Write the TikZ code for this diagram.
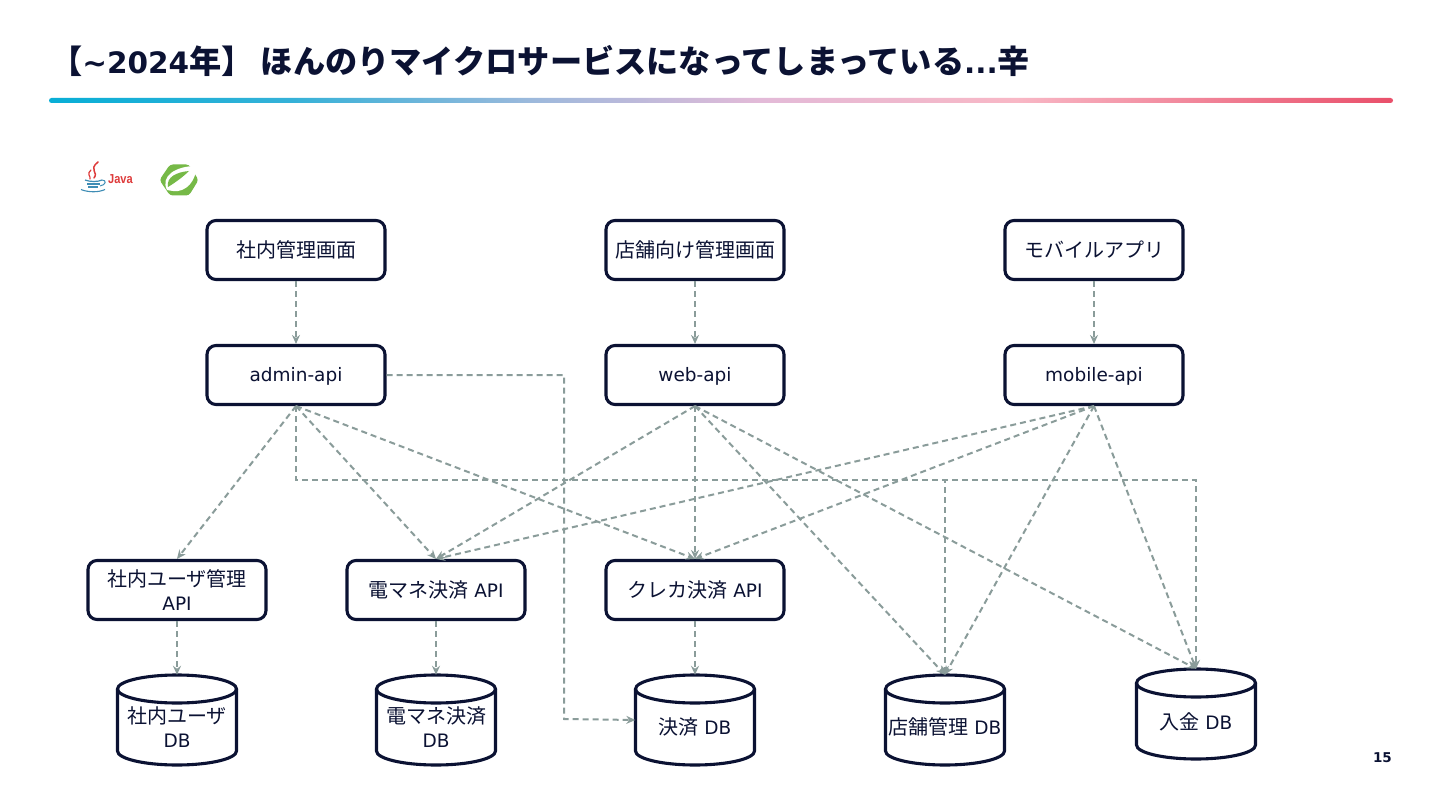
\documentclass[tikz,border=0pt]{standalone}
\usepackage{fontspec}
\setmainfont{DejaVu Sans}
\newfontfamily\jp{Noto Sans CJK JP}
\newfontfamily\jl{Liberation Sans}
\usetikzlibrary{arrows.meta,calc}
\definecolor{ink}{HTML}{0B1233}
\definecolor{conn}{HTML}{8A9C9A}
\definecolor{barA}{HTML}{08AED6}
\definecolor{barB}{HTML}{9DB9DC}
\definecolor{barC}{HTML}{E3BAD8}
\definecolor{barD}{HTML}{F8B7C5}
\definecolor{barE}{HTML}{E94F6A}
\definecolor{javared}{HTML}{DE3B3B}
\definecolor{javablue}{HTML}{3F8DB5}
\definecolor{springgreen}{HTML}{76B947}
\pgfdeclarehorizontalshading{titlebar}{100bp}{
 color(0bp)=(barA); color(25bp)=(barA); color(34bp)=(barA!70!barB); color(43bp)=(barB); color(51.5bp)=(barC); color(61bp)=(barD); color(75bp)=(barE); color(100bp)=(barE)}
\newcommand{\J}[1]{{\fontsize{20}{24}\selectfont\jp #1}}
\newcommand{\JT}[1]{{\fontsize{32.2}{38}\selectfont\jp #1}}
\newcommand{\Lat}[1]{\raisebox{-6.5pt}[0pt][0pt]{#1}}
\tikzset{
 x=1pt,y=-1pt,
 box/.style={draw=ink,line width=3.1pt,rounded corners=9pt,fill=white,minimum width=178pt,minimum height=59pt,inner sep=0pt,align=center,text=ink,font=\fontsize{18.5}{24}\selectfont},
 dbtext/.style={inner sep=0pt,align=center,text=ink,font=\fontsize{18.5}{24}\selectfont},
 dbframe/.style={inner sep=0pt,minimum width=119pt,minimum height=90pt},
 dbline/.style={draw=ink,line width=3.1pt,fill=white},
 flow/.style={draw=conn,line width=2pt,dash pattern=on 6pt off 4pt,-{Stealth[length=9pt,width=8pt,inset=3pt]}},
}
% name, cx, top, text
\newcommand{\dbcyl}[5][52]{
 \draw[dbline] (#3-59.5,#4+14) -- (#3-59.5,#4+76) arc[start angle=180,end angle=360,x radius=59.5,y radius=-14] -- (#3+59.5,#4+14);
 \draw[dbline] (#3,#4+14) ellipse[x radius=59.5,y radius=14];
 \node[dbframe] (#2) at (#3,#4+45) {};
 \node[dbtext] (#2text) at (#3,#4+#1) {#5};
}
\begin{document}
\begin{tikzpicture}
\useasboundingbox (0,0) rectangle (1440,810);
\fill[white] (0,0) rectangle (1440,810);

\node[anchor=west,inner sep=0pt,text=ink,font=\fontsize{29.5}{36}\selectfont\bfseries] (title) at (50,61) {\JT{【}\textasciitilde 2024\JT{年】 ほんのりマイクロサービスになってしまっている}...\JT{辛}};
\shade[shading=titlebar,rounded corners=2.5pt] (49,98) rectangle (1393,103);
\node[anchor=east,inner sep=0pt,text=ink,font=\fontsize{13.5}{15}\selectfont\bfseries] (page) at (1392,758) {15};

% Java logo
\draw[javared,line width=1.5pt,line cap=round] (98,162) .. controls (88,170) and (99,172) .. (94,178);
\draw[javared,line width=1.2pt,line cap=round] (91,170) .. controls (86,174) and (91,176) .. (90,179);
\draw[javablue,line width=1.2pt] (85,180) .. controls (90,182) and (98,182) .. (102,180);
\draw[javablue,line width=1.2pt] (87,184) -- (100,184);
\draw[javablue,line width=1.2pt] (88,187) -- (98,187);
\draw[javablue,line width=1pt] (102,180) .. controls (107,180) and (106,185) .. (100,186);
\draw[javablue,line width=1.1pt] (81,189.5) .. controls (88,192.5) and (99,192.5) .. (105,189.5);
\node[anchor=west,inner sep=0pt,text=javared,font=\fontsize{13}{15}\jl\bfseries\selectfont,xscale=.85] (java) at (108,179) {Java};

% Spring logo
\fill[springgreen,rounded corners=3pt] (170,164.5) -- (189,164.5) -- (198.5,180) -- (189,195.5) -- (170,195.5) -- (159.5,180) -- cycle;
\fill[white] (167,190) .. controls (160,176) and (176,166) .. (196,166) .. controls (197,180) and (186,193) .. (173,191) .. controls (171,191) and (168,190) .. (167,190) -- cycle;
\fill[springgreen] (168,187) .. controls (166,177) and (177,172) .. (189,171) .. controls (183,177) and (176,182) .. (168,187) -- cycle;

% boxes
\node[box] (mgmt) at (296,250) {\J{社内管理画面}};
\node[box] (shop) at (695,250) {\J{店舗向け管理画面}};
\node[box] (app) at (1094,250) {\J{モバイルアプリ}};
\node[box] (adminapi) at (296,375) {\Lat{admin-api}};
\node[box] (webapi) at (695,375) {\Lat{web-api}};
\node[box] (mobileapi) at (1094,375) {\Lat{mobile-api}};
\node[box] (userapi) at (177,590) {\J{社内ユーザ管理}\\API};
\node[box] (emoneyapi) at (436,590) {\J{電マネ決済} API};
\node[box] (cardapi) at (695,590) {\J{クレカ決済} API};

% databases
\dbcyl{userdb}{177}{675}{\J{社内ユーザ}\\DB}
\dbcyl{emoneydb}{436}{675}{\J{電マネ決済}\\DB}
\dbcyl{paydb}{695}{675}{\J{決済} DB}
\dbcyl{shopdb}{945}{675}{\J{店舗管理} DB}
\dbcyl[53]{nyukindb}{1196}{669}{\J{入金} DB}

% connectors
\draw[flow] (mgmt) -- (adminapi);
\draw[flow] (shop) -- (webapi);
\draw[flow] (app) -- (mobileapi);
\draw[flow] (userapi) -- (userdb);
\draw[flow] (emoneyapi) -- (emoneydb);
\draw[flow] (cardapi) -- (paydb);
\foreach \s in {adminapi,webapi,mobileapi}{
 \foreach \t in {emoneyapi,cardapi}{
  \draw[flow] (\s.south) -- (\t.north);
 }
}
\draw[flow] (adminapi.south) -- (userapi.north);
\foreach \s in {webapi,mobileapi}{
 \foreach \t in {shopdb,nyukindb}{
  \draw[flow] (\s.south) -- (\t.north);
 }
}
\draw[flow] (adminapi.south) |- (945,480) -- (shopdb.north);
\draw[flow] (adminapi.south) |- (1196,480) -- (nyukindb.north);
\draw[flow] (adminapi.east) -- (564,375) -- (564,719) -- (paydb.west);
\end{tikzpicture}
\end{document}
